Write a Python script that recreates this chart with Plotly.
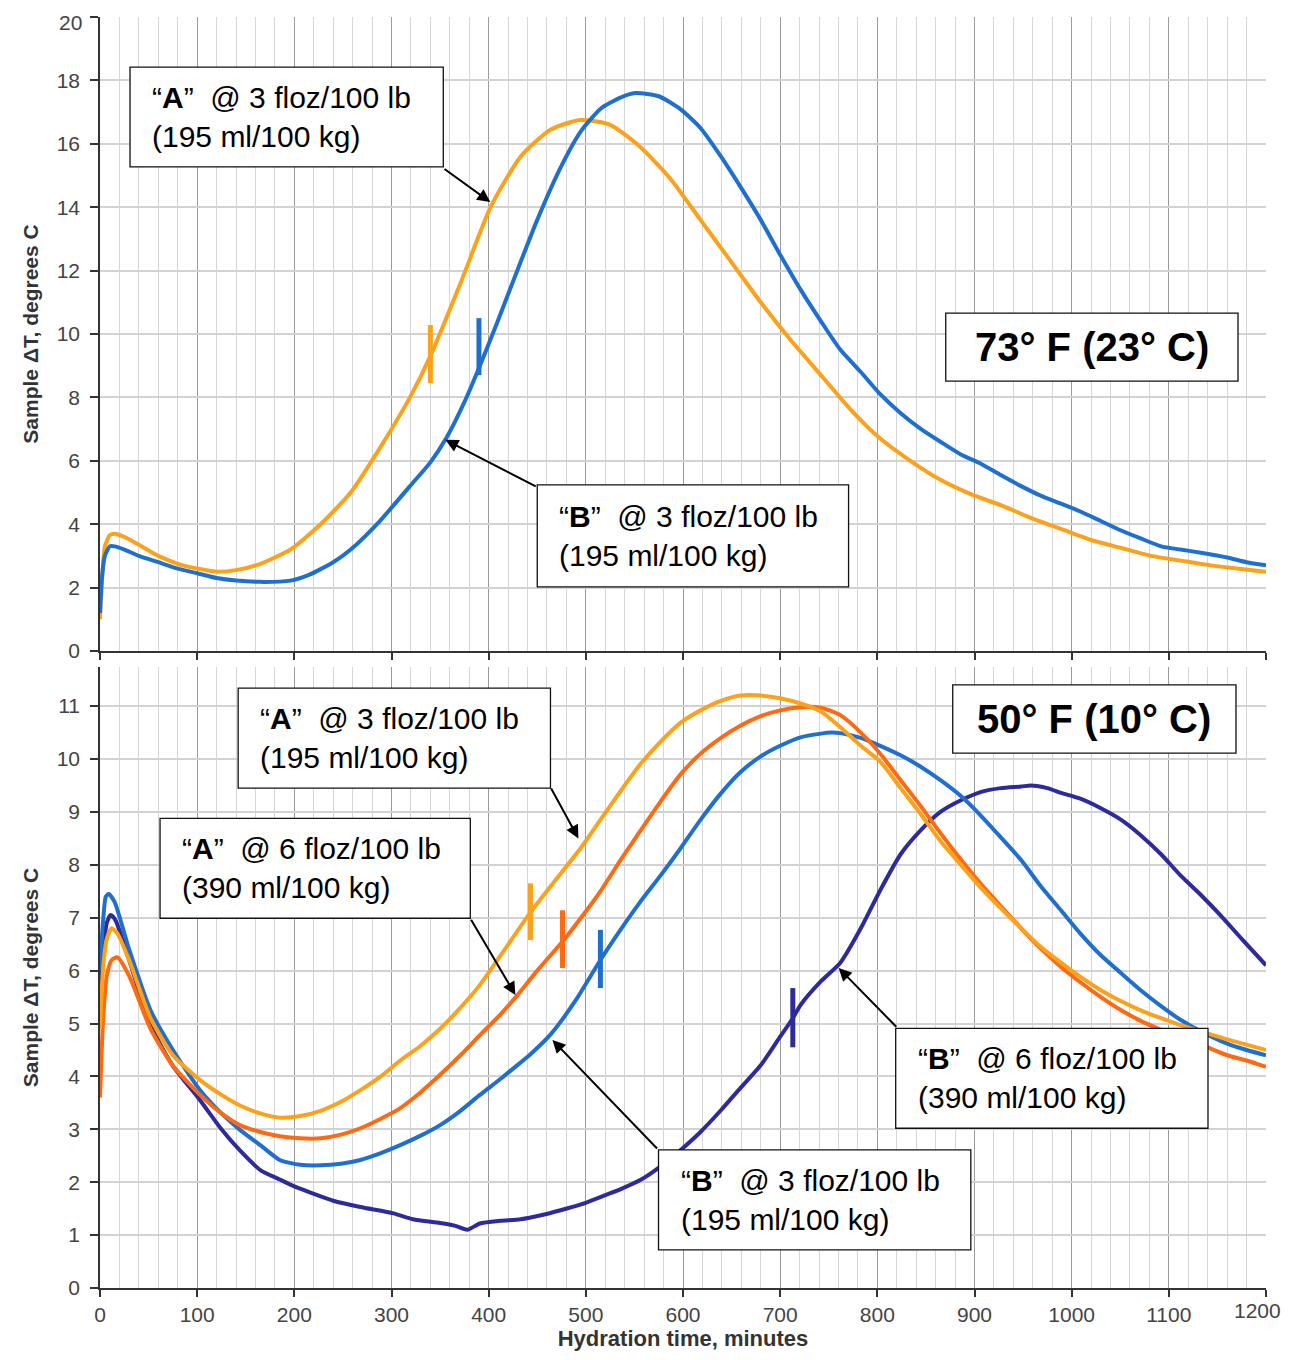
import plotly.graph_objects as go

# ---------------- data: 73 F (23 C) ----------------
top_a3_x = [0, 2, 5, 10, 15, 25, 40, 60, 80, 100, 120, 140, 165, 196, 227, 258, 288, 319, 340, 371, 402,
            433, 464, 494, 525, 556, 587, 618, 649, 680, 711, 742, 773, 803, 834, 865, 896, 927, 958, 989,
            1020, 1051, 1082, 1112, 1143, 1170, 1200]
top_a3_y = [1.0, 2.2, 3.3, 3.65, 3.7, 3.6, 3.35, 3.0, 2.75, 2.6, 2.5, 2.55, 2.75, 3.2, 4.0, 5.0, 6.4, 8.0, 9.3,
            11.6, 14.0, 15.6, 16.45, 16.75, 16.6, 15.9, 14.9, 13.6, 12.3, 11.0, 9.8, 8.7, 7.6, 6.7, 6.0, 5.4,
            4.95, 4.6, 4.2, 3.85, 3.5, 3.25, 3.0, 2.85, 2.7, 2.6, 2.5]

top_b3_x = [0, 2, 5, 10, 15, 25, 40, 60, 80, 100, 120, 140, 165, 196, 215, 240, 258, 288, 319, 340, 357, 375,
            391, 408, 425, 450, 474, 495, 515, 535, 551, 575, 597, 618, 639, 660, 680, 700, 721, 742, 762, 783,
            803, 824, 845, 865, 886, 907, 927, 948, 968, 989, 1009, 1030, 1051, 1071, 1092, 1112, 1133, 1160,
            1180, 1200]
top_b3_y = [1.2, 2.3, 3.0, 3.3, 3.3, 3.2, 3.0, 2.8, 2.6, 2.45, 2.3, 2.22, 2.18, 2.22, 2.4, 2.8, 3.2, 4.1, 5.2,
            5.95, 6.75, 7.85, 9.0, 10.3, 11.65, 13.6, 15.25, 16.4, 17.1, 17.45, 17.6, 17.5, 17.1, 16.5, 15.6,
            14.6, 13.6, 12.5, 11.4, 10.4, 9.5, 8.8, 8.1, 7.5, 7.0, 6.6, 6.2, 5.9, 5.55, 5.2, 4.9, 4.65, 4.4, 4.1,
            3.8, 3.55, 3.3, 3.2, 3.1, 2.95, 2.8, 2.7]

top_mark_x = [340, 390]
top_mark_lo = [8.45, 8.7]
top_mark_hi = [10.28, 10.5]

# ---------------- data: 50 F (10 C) ----------------
bot_a3_x = [0, 3, 7, 12, 18, 30, 52, 75, 103, 125, 144, 165, 185, 206, 227, 248, 268, 289, 309, 330, 350, 371,
            391, 412, 443, 464, 494, 515, 536, 556, 577, 597, 618, 639, 659, 680, 700, 721, 742, 762, 783, 803,
            824, 845, 865, 886, 906, 927, 948, 968, 989, 1009, 1030, 1051, 1071, 1092, 1112, 1133, 1160, 1180, 1200]
bot_a3_y = [4.9, 6.0, 6.6, 6.8, 6.7, 6.2, 5.1, 4.4, 3.93, 3.65, 3.45, 3.3, 3.22, 3.25, 3.35, 3.52, 3.74, 4.0,
            4.3, 4.58, 4.9, 5.3, 5.73, 6.28, 7.1, 7.6, 8.3, 8.85, 9.4, 9.9, 10.33, 10.68, 10.92, 11.1, 11.2, 11.2,
            11.15, 11.05, 10.9, 10.6, 10.25, 9.95, 9.45, 8.95, 8.45, 8.0, 7.58, 7.18, 6.8, 6.45, 6.15, 5.88,
            5.63, 5.42, 5.25, 5.1, 4.97, 4.85, 4.7, 4.6, 4.5]

bot_a6_x = [0, 3, 7, 12, 18, 30, 52, 75, 103, 125, 144, 165, 185, 206, 227, 248, 268, 289, 309, 330, 350, 371,
            391, 412, 427, 450, 476, 495, 515, 536, 556, 577, 597, 618, 639, 659, 680, 700, 721, 742, 762, 783,
            803, 824, 845, 865, 886, 906, 927, 948, 968, 989, 1009, 1030, 1051, 1071, 1092, 1112, 1133, 1160,
            1180, 1200]
bot_a6_y = [3.6, 5.0, 5.9, 6.2, 6.25, 5.9, 4.9, 4.2, 3.65, 3.3, 3.08, 2.95, 2.87, 2.83, 2.83, 2.9, 3.02, 3.2,
            3.4, 3.7, 4.03, 4.4, 4.78, 5.17, 5.48, 6.0, 6.55, 7.0, 7.5, 8.1, 8.64, 9.2, 9.7, 10.1, 10.4, 10.63,
            10.81, 10.92, 10.98, 10.97, 10.83, 10.5, 10.1, 9.6, 9.1, 8.6, 8.1, 7.65, 7.22, 6.8, 6.42, 6.07, 5.78,
            5.5, 5.25, 5.05, 4.88, 4.73, 4.6, 4.4, 4.3, 4.18]

bot_b3_x = [0, 3, 6, 9, 15, 30, 52, 75, 103, 125, 144, 165, 185, 206, 227, 248, 268, 289, 309, 330, 350, 371,
            391, 412, 422, 443, 464, 490, 515, 536, 556, 577, 597, 618, 639, 659, 680, 700, 721, 742, 752, 762,
            783, 803, 824, 845, 865, 886, 906, 927, 948, 968, 989, 1009, 1030, 1051, 1071, 1092, 1112, 1133,
            1160, 1180, 1200]
bot_b3_y = [6.0, 6.9, 7.4, 7.45, 7.3, 6.4, 5.25, 4.5, 3.74, 3.3, 2.99, 2.7, 2.42, 2.33, 2.32, 2.35, 2.42, 2.55,
            2.7, 2.88, 3.08, 3.35, 3.65, 3.95, 4.1, 4.42, 4.8, 5.45, 6.2, 6.78, 7.3, 7.8, 8.3, 8.85, 9.35,
            9.75, 10.05, 10.25, 10.41, 10.48, 10.5, 10.49, 10.4, 10.25, 10.07, 9.85, 9.6, 9.3, 8.94, 8.52, 8.09,
            7.6, 7.14, 6.7, 6.29, 5.95, 5.63, 5.33, 5.07, 4.85, 4.62, 4.5, 4.4]

bot_b6_x = [0, 3, 7, 11, 16, 30, 52, 75, 103, 125, 144, 165, 185, 200, 220, 240, 268, 302, 322, 350, 365, 378,
            391, 412, 433, 455, 474, 495, 515, 536, 556, 577, 597, 618, 639, 659, 680, 700, 713, 721, 742, 762,
            783, 803, 824, 845, 865, 886, 907, 927, 948, 958, 975, 989, 1009, 1030, 1051, 1071, 1092, 1112,
            1133, 1153, 1175, 1200]
bot_b6_y = [5.5, 6.3, 6.9, 7.05, 6.95, 6.2, 4.97, 4.2, 3.55, 3.0, 2.6, 2.23, 2.05, 1.92, 1.78, 1.65, 1.53, 1.41,
            1.3, 1.23, 1.18, 1.1, 1.22, 1.27, 1.3, 1.38, 1.47, 1.58, 1.72, 1.87, 2.04, 2.3, 2.6, 2.95, 3.36, 3.78,
            4.21, 4.75, 5.1, 5.35, 5.8, 6.15, 6.8, 7.52, 8.2, 8.66, 9.0, 9.22, 9.38, 9.45, 9.48, 9.5, 9.45, 9.36,
            9.25, 9.07, 8.85, 8.56, 8.2, 7.8, 7.43, 7.05, 6.6, 6.1]

bot_mark_x = [443, 476, 515, 713]
bot_mark_lo = [6.58, 6.05, 5.67, 4.55]
bot_mark_hi = [7.65, 7.14, 6.77, 5.67]

x_ticks = [0, 100, 200, 300, 400, 500, 600, 700, 800, 900, 1000, 1100, 1200]
x_ticktext = ["0", "100", "200", "300", "400", "500", "600", "700", "800", "900", "1000", "1100", ""]
last_x_label = "1200"
top_y_ticks = [0, 2, 4, 6, 8, 10, 12, 14, 16, 18, 20]
top_y_ticktext = ["0", "2", "4", "6", "8", "10", "12", "14", "16", "18", ""]
last_y_label = "20"

# ---------------- styles ----------------
C_ORANGE = "#FBA11A"
C_BLUE = "#1E6FD0"
C_DKORANGE = "#FD6A12"
C_PURPLE = "#2D2A9B"
FONT = "Liberation Sans, Arial, sans-serif"
LW = 4

fig = go.Figure()


def add_line(x, y, color, xa, ya):
    fig.add_trace(go.Scatter(x=x, y=y, mode="lines", line=dict(color=color, width=LW, shape="spline", smoothing=0.6),
                             xaxis=xa, yaxis=ya, showlegend=False, hoverinfo="skip"))


def add_mark(x, lo, hi, color, xa, ya):
    fig.add_trace(go.Scatter(x=[x, x], y=[lo, hi], mode="lines", line=dict(color=color, width=5),
                             xaxis=xa, yaxis=ya, showlegend=False, hoverinfo="skip"))


# top panel
add_line(top_a3_x, top_a3_y, C_ORANGE, "x", "y")
add_line(top_b3_x, top_b3_y, C_BLUE, "x", "y")
for mx, lo, hi, col in zip(top_mark_x, top_mark_lo, top_mark_hi, [C_ORANGE, C_BLUE]):
    add_mark(mx, lo, hi, col, "x", "y")

# bottom panel
add_line(bot_b6_x, bot_b6_y, C_PURPLE, "x2", "y2")
add_line(bot_b3_x, bot_b3_y, C_BLUE, "x2", "y2")
add_line(bot_a6_x, bot_a6_y, C_DKORANGE, "x2", "y2")
add_line(bot_a3_x, bot_a3_y, C_ORANGE, "x2", "y2")
for mx, lo, hi, col in zip(bot_mark_x, bot_mark_lo, bot_mark_hi, [C_ORANGE, C_DKORANGE, C_BLUE, C_PURPLE]):
    add_mark(mx, lo, hi, col, "x2", "y2")

AXCOL = "#333333"
TICKFONT = dict(family=FONT, size=21, color="#444444")
common_x = dict(range=[0, 1200], tickmode="array", tickvals=x_ticks, ticktext=x_ticktext, ticks="outside",
                ticklen=7, tickwidth=1.5, tickcolor=AXCOL, showline=True, linecolor=AXCOL, linewidth=1.5,
                showgrid=True, gridcolor="#9a9a9a", gridwidth=1, zeroline=False, automargin=False,
                minor=dict(dtick=20, showgrid=True, gridcolor="#d6d6d6", gridwidth=1, ticks=""),
                tickfont=TICKFONT)
common_y = dict(ticks="outside", ticklen=8, tickwidth=1.5, tickcolor=AXCOL, showline=True, linecolor=AXCOL,
                linewidth=1.5, showgrid=True, gridcolor="#d2d2d2", gridwidth=1.5, zeroline=False, automargin=False,
                tickfont=TICKFONT, ticklabelstandoff=6,
                title=dict(text="Sample ΔT, degrees C", standoff=12,
                           font=dict(family=FONT, size=21, color="#333333", weight="bold")))

# page body has an 8px margin, so the figure is sized/offset to land on the reference pixels
fig.update_layout(
    width=1284, height=1344,
    margin=dict(l=92, r=26, t=9, b=64, autoexpand=False),
    paper_bgcolor="white", plot_bgcolor="white",
    xaxis=dict(common_x, anchor="y", domain=[0, 1], showticklabels=False),
    yaxis=dict(common_y, anchor="x", domain=[0.5012, 1], range=[0, 20], tickmode="array",
               tickvals=top_y_ticks, ticktext=top_y_ticktext),
    xaxis2=dict(common_x, anchor="y2", domain=[0, 1],
                title=dict(text="Hydration time, minutes", standoff=5,
                           font=dict(family=FONT, size=22, color="#333333", weight="bold"))),
    yaxis2=dict(common_y, anchor="x2", domain=[0, 0.4886], range=[0, 11.74], dtick=1, tick0=0),
)

# ---------------- annotation boxes ----------------
# (xref, yref, x0, x1, y0, y1, text, is_big)
boxes = [
    ("x", "y", 30.9, 353.3, 15.27, 18.42, "“<b>A</b>”  @ 3 floz/100 lb<br>(195 ml/100 kg)", False),
    ("x", "y", 450.0, 770.4, 2.02, 5.24, "“<b>B</b>”  @ 3 floz/100 lb<br>(195 ml/100 kg)", False),
    ("x", "y", 870.4, 1171.2, 8.51, 10.66, "<b>73° F (23° C)</b>", True),
    ("x2", "y2", 142.2, 463.6, 9.45, 11.34, "“<b>A</b>”  @ 3 floz/100 lb<br>(195 ml/100 kg)", False),
    ("x2", "y2", 61.8, 381.1, 6.99, 8.88, "“<b>A</b>”  @ 6 floz/100 lb<br>(390 ml/100 kg)", False),
    ("x2", "y2", 818.9, 1140.3, 3.02, 4.91, "“<b>B</b>”  @ 6 floz/100 lb<br>(390 ml/100 kg)", False),
    ("x2", "y2", 574.8, 896.2, 0.72, 2.61, "“<b>B</b>”  @ 3 floz/100 lb<br>(195 ml/100 kg)", False),
    ("x2", "y2", 877.6, 1169.1, 10.11, 11.40, "<b>50° F (10° C)</b>", True),
]

# arrows: (xref, yref, tail_x, tail_y, head_x, head_y)
arrows = [
    ("x", "y", 353.0, 15.24, 401.7, 14.16),
    ("x", "y", 450.0, 5.17, 355.4, 6.66),
    ("x2", "y2", 463.5, 9.47, 492.4, 8.5),
    ("x2", "y2", 381.0, 6.99, 427.5, 5.54),
    ("x2", "y2", 821.0, 4.91, 760.2, 6.05),
    ("x2", "y2", 574.8, 2.61, 465.6, 4.69),
]

annotations = []
shapes = []
for xr, yr, x0, x1, y0, y1, txt, big in boxes:
    shapes.append(dict(type="rect", xref=xr, yref=yr, x0=x0, x1=x1, y0=y0, y1=y1,
                       fillcolor="white", line=dict(color="#111111", width=1.3), layer="above"))
    if big:
        annotations.append(dict(xref=xr, yref=yr, x=(x0 + x1) / 2, y=(y0 + y1) / 2, text=txt, showarrow=False,
                                xanchor="center", yanchor="middle",
                                font=dict(family=FONT, size=40, color="black")))
    else:
        annotations.append(dict(xref=xr, yref=yr, x=x0, y=(y0 + y1) / 2, xshift=20, text=txt, showarrow=False,
                                xanchor="left", yanchor="middle", align="left",
                                font=dict(family=FONT, size=30, color="black")))

for xr, yr, tx, ty, hx, hy in arrows:
    annotations.append(dict(xref=xr, yref=yr, x=hx, y=hy, ax=tx, ay=ty, axref=xr, ayref=yr, text="",
                            showarrow=True, arrowhead=2, arrowsize=1.3, arrowwidth=2, arrowcolor="black"))

# edge tick labels, kept inside the visible page
annotations.append(dict(xref="x2", yref="paper", x=x_ticks[-1], y=0, yshift=-9, xshift=17, text=last_x_label,
                        showarrow=False, xanchor="right", yanchor="top", font=TICKFONT))
annotations.append(dict(xref="paper", yref="y", x=0, y=top_y_ticks[-1], xshift=-16, yshift=8, text=last_y_label,
                        showarrow=False, xanchor="right", yanchor="top", font=TICKFONT))

fig.update_layout(shapes=shapes, annotations=annotations)

fig.write_html("out.html")
